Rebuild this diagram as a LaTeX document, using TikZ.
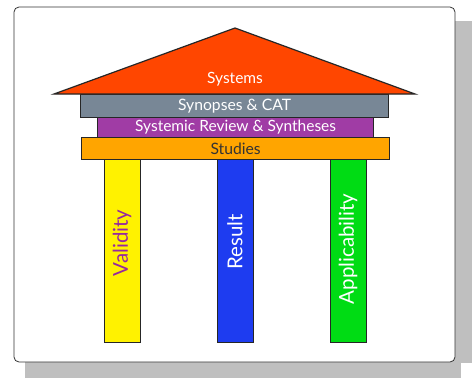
\documentclass[tikz,border=0pt]{standalone}
\usepackage{fontspec}
\setmainfont{Lato}
\begin{document}
\begin{tikzpicture}[x=1pt,y=-1pt,
  band/.style={draw=black!85, line width=1.2pt, anchor=north west, inner sep=0pt, font=\fontsize{15.7}{18}\selectfont},
  pillar/.style={draw=black!85, line width=1.2pt, anchor=north west, inner sep=0pt, minimum width=36pt, minimum height=183pt},
  vlabel/.style={rotate=90, font=\fontsize{20.5}{24}\selectfont}]
\useasboundingbox (0,0) rectangle (472,378);
\fill[black!25] (25,21) rectangle (472,378);
\fill[white] (0,363) rectangle (25,378);
\fill[white] (461,0) rectangle (472,21);
\fill[white] (461,363) -- (461,378) -- (472,378) -- (472,363) -- cycle;
\draw[rounded corners=5pt, fill=white, draw=black!80, line width=0.8pt] (14,7) rectangle (455,362);
% pillars
\node[pillar, fill=yellow] (p1) at (104,159) {};
\node[pillar, fill={rgb,255:red,30;green,60;blue,240}] (p2) at (217,159) {};
\node[pillar, fill={rgb,255:red,0;green,220;blue,20}] (p3) at (330,159) {};
\node[vlabel, text={rgb,255:red,150;green,40;blue,160}] (t1) at (122,243) {Validity};
\node[vlabel, text=white] (t2) at (235,242) {Result};
\node[vlabel, text=white] (t3) at (348,249) {Applicability};
% bands
\node[band, fill={rgb,255:red,255;green,165;blue,0}, minimum width=308pt, minimum height=22pt, text=black!80] (studies) at (81,137) {Studies};
\node[band, fill={rgb,255:red,160;green,60;blue,165}, minimum width=276pt, minimum height=20pt, text=white, font=\fontsize{15.5}{17}\selectfont] (review) at (97,117) {Systemic Review \& Syntheses};
\node[band, fill={rgb,255:red,120;green,135;blue,150}, minimum width=308pt, minimum height=23pt, text=white] (synopses) at (80,94) {Synopses \& CAT};
% roof
\coordinate (rl) at (54,94);
\coordinate (rr) at (415,94);
\coordinate (ra) at (235,28);
\draw[fill={rgb,255:red,255;green,70;blue,0}, draw=black!85, line width=1.2pt, line join=miter] (rl) -- (ra) -- (rr) -- cycle;
\node[text=white, font=\fontsize{15.5}{18}\selectfont] (systems) at (235,79) {Systems};
\end{tikzpicture}
\end{document}
